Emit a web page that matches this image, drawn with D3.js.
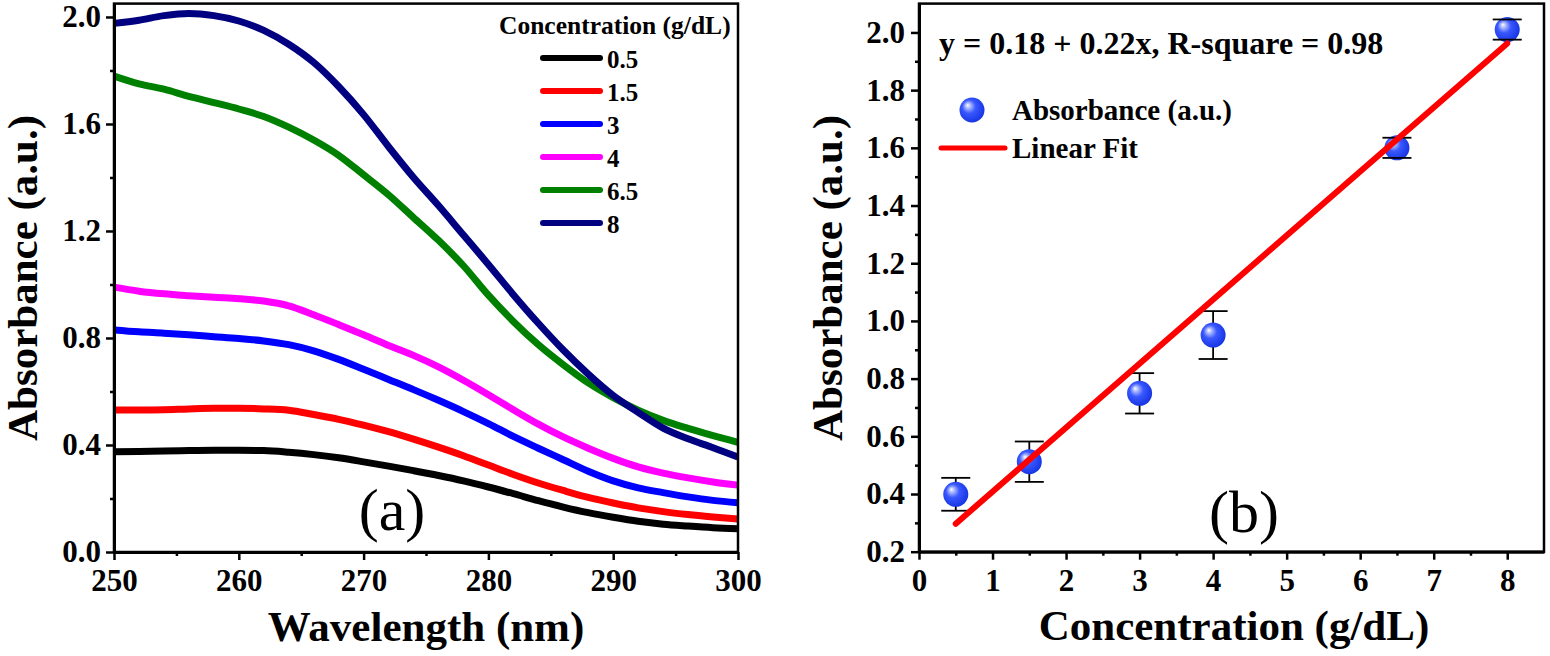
<!DOCTYPE html>
<html><head><meta charset="utf-8">
<script src="https://cdn.jsdelivr.net/npm/d3@7"></script>
</head><body style="margin:0;background:#fff"><svg id="c" width="1550" height="656" font-family="Liberation Serif"></svg>
<script>
// ---------- DATA ----------
const wavelengths = [250,252,254,256,258,260,262,264,266,268,270,272,274,276,278,280,282,284,286,288,290,292,294,296,298,300];
const seriesLabels = ["0.5","1.5","3","4","6.5","8"];
const abs_0_5 = [0.375,0.376,0.378,0.379,0.380,0.380,0.379,0.373,0.364,0.352,0.337,0.321,0.304,0.286,0.266,0.243,0.218,0.192,0.168,0.147,0.130,0.115,0.104,0.097,0.091,0.087];
const abs_1_5 = [0.531,0.531,0.532,0.535,0.537,0.537,0.535,0.530,0.514,0.496,0.474,0.450,0.422,0.392,0.360,0.325,0.290,0.258,0.230,0.204,0.183,0.165,0.151,0.140,0.131,0.123];
const abs_3   = [0.830,0.823,0.818,0.812,0.805,0.798,0.789,0.775,0.752,0.720,0.683,0.645,0.607,0.567,0.525,0.480,0.432,0.388,0.345,0.302,0.266,0.240,0.222,0.206,0.193,0.184];
const abs_4   = [0.990,0.975,0.965,0.958,0.952,0.947,0.938,0.920,0.887,0.850,0.812,0.772,0.735,0.692,0.642,0.588,0.532,0.478,0.430,0.388,0.350,0.318,0.295,0.277,0.262,0.250];
const abs_6_5 = [1.779,1.750,1.730,1.703,1.680,1.656,1.628,1.588,1.540,1.483,1.410,1.335,1.250,1.165,1.070,0.960,0.862,0.775,0.700,0.632,0.577,0.530,0.492,0.462,0.435,0.410];
const abs_8   = [1.976,1.988,2.005,2.013,2.005,1.985,1.950,1.898,1.830,1.740,1.635,1.515,1.400,1.295,1.185,1.075,0.962,0.855,0.755,0.665,0.585,0.522,0.463,0.423,0.390,0.355];
const seriesValues = [abs_0_5, abs_1_5, abs_3, abs_4, abs_6_5, abs_8];

const concentrations = [0.5,1.5,3,4,6.5,8];
const meanAbsorbance = [0.399,0.512,0.749,0.951,1.600,2.010];
const absError = [0.057,0.070,0.070,0.083,0.035,0.035];
const fitX = [0.5,8];
const fitY = [0.297,1.962];

const leftYTicks = [0,0.4,0.8,1.2,1.6,2.0];
const leftYMinor = [0.2,0.6,1.0,1.4,1.8];
const leftXTicks = [250,260,270,280,290,300];
const leftXMinor = [255,265,275,285,295];
const rightYTicks = [0.2,0.4,0.6,0.8,1.0,1.2,1.4,1.6,1.8,2.0];
const rightYMinor = [0.3,0.5,0.7,0.9,1.1,1.3,1.5,1.7,1.9];
const rightXTicks = [0,1,2,3,4,5,6,7,8];
const rightXMinor = [0.5,1.5,2.5,3.5,4.5,5.5,6.5,7.5];

// ---------- STYLE ----------
const seriesColors = ["#000000","#ff0000","#0000ff","#ff00ff","#008000","#000080"];
const FONT = "Liberation Serif";

const svg = d3.select("#c");

function setFont(sel){
  sel.attr("font-family",FONT).style("font-family",'"Liberation Serif"');
}
function txt(g, x, y, s, size, opts={}){
  const t = g.append("text").attr("x",x).attr("y",y)
    .attr("font-size",size).attr("font-weight",opts.normal?"normal":"bold")
    .attr("fill","#000").attr("text-anchor",opts.anchor||"start").text(s);
  setFont(t);
  if(opts.transform) t.attr("transform",opts.transform);
  return t;
}

const defs = svg.append("defs");
const grad = defs.append("radialGradient").attr("id","sphere")
  .attr("cx","0.45").attr("cy","0.45").attr("r","0.6").attr("fx","0.32").attr("fy","0.3");
grad.append("stop").attr("offset","0%").attr("stop-color","#ffffff");
grad.append("stop").attr("offset","18%").attr("stop-color","#a8b6ff");
grad.append("stop").attr("offset","45%").attr("stop-color","#3a58ff");
grad.append("stop").attr("offset","100%").attr("stop-color","#1232e0");

function drawAxes(g, x, y, xt, xm, yt, ym, xfmt, yfmt, ypad){
  const [x0,x1] = x.range(), [y0,y1] = y.range();
  g.append("rect").attr("x",x0).attr("y",y1).attr("width",x1-x0).attr("height",y0-y1)
    .attr("fill","none").attr("stroke","#000").attr("stroke-width",2.5);
  g.append("g").attr("transform",`translate(0,${y0})`)
    .call(d3.axisBottom(x).tickValues(xt).tickFormat(xfmt).tickSize(8).tickSizeOuter(0).tickPadding(9));
  g.append("g").attr("transform",`translate(0,${y0})`)
    .call(d3.axisBottom(x).tickValues(xm).tickFormat("").tickSize(4).tickSizeOuter(0))
    .select(".domain").remove();
  g.append("g").attr("transform",`translate(${x0},0)`)
    .call(d3.axisLeft(y).tickValues(yt).tickFormat(yfmt).tickSize(8).tickSizeOuter(0).tickPadding(ypad));
  g.append("g").attr("transform",`translate(${x0},0)`)
    .call(d3.axisLeft(y).tickValues(ym).tickFormat("").tickSize(4).tickSizeOuter(0))
    .select(".domain").remove();
  g.selectAll("g").attr("font-family",FONT).attr("font-size",31);
  g.selectAll(".domain").attr("stroke-width",3);
  g.selectAll(".tick line").attr("stroke-width",2.5);
  const tt = g.selectAll(".tick text").attr("font-size",31).attr("font-weight","bold").attr("fill","#000");
  setFont(tt);
}

// ---------- PANEL A ----------
const xA = d3.scaleLinear().domain([250,300]).range([114,738]);
const yA = d3.scaleLinear().domain([0,2.05]).range([552,3.6]);
const gA = svg.append("g");

const lineA = d3.line().x((d,i)=>xA(wavelengths[i])).y(d=>yA(d)).curve(d3.curveMonotoneX);
seriesValues.forEach((vals,k)=>{
  gA.append("path").attr("d",lineA(vals)).attr("fill","none")
    .attr("stroke",seriesColors[k]).attr("stroke-width",7).attr("stroke-linejoin","round");
});
drawAxes(gA, xA, yA, leftXTicks, leftXMinor, leftYTicks, leftYMinor, d3.format("d"), d3.format(".1f"), 5);

// legend A
txt(gA, 499, 34, "Concentration (g/dL)", 25.5);
seriesLabels.forEach((lab,k)=>{
  const yy = 58 + 33*k;
  gA.append("line").attr("x1",543).attr("x2",600).attr("y1",yy).attr("y2",yy)
    .attr("stroke",seriesColors[k]).attr("stroke-width",6).attr("stroke-linecap","round");
  txt(gA, 607, yy+9.5, lab, 25);
});
txt(gA, 392, 530, "(a)", 60, {anchor:"middle", normal:true});
txt(gA, 0, 0, "Absorbance (a.u.)", 43, {anchor:"middle", transform:"translate(37,278) rotate(-90)"});
txt(gA, 426, 641, "Wavelength (nm)", 43, {anchor:"middle"});

// ---------- PANEL B ----------
const xB = d3.scaleLinear().domain([0,8.5]).range([919,1544]);
const yB = d3.scaleLinear().domain([0.2,2.1]).range([551.7,3.6]);
const gB = svg.append("g");
drawAxes(gB, xB, yB, rightXTicks, rightXMinor, rightYTicks, rightYMinor, d3.format("d"), d3.format(".1f"), 6);

const pts = concentrations.map((c,i)=>({c, v:meanAbsorbance[i], e:absError[i]}));
gB.selectAll(".stem").data(pts).enter().append("line")
  .attr("x1",d=>xB(d.c)).attr("x2",d=>xB(d.c))
  .attr("y1",d=>yB(d.v+d.e)).attr("y2",d=>yB(d.v-d.e))
  .attr("stroke","#000").attr("stroke-width",1.8);
gB.selectAll(".pt").data(pts).enter().append("circle")
  .attr("cx",d=>xB(d.c)).attr("cy",d=>yB(d.v)).attr("r",12.5).attr("fill","url(#sphere)");
[1,-1].forEach(s=>{
  gB.selectAll(".cap"+s).data(pts).enter().append("line")
    .attr("x1",d=>xB(d.c)-14.5).attr("x2",d=>xB(d.c)+14.5)
    .attr("y1",d=>yB(d.v+s*d.e)).attr("y2",d=>yB(d.v+s*d.e))
    .attr("stroke","#000").attr("stroke-width",1.8);
});
gB.append("path").attr("d",d3.line().x((d,i)=>xB(fitX[i])).y(d=>yB(d))(fitY))
  .attr("stroke","#ff0000").attr("stroke-width",6).attr("fill","none").attr("stroke-linecap","round");

// legend B
txt(gB, 939, 54, "y = 0.18 + 0.22x, R-square = 0.98", 32);
gB.append("circle").attr("cx",972).attr("cy",110).attr("r",12.5).attr("fill","url(#sphere)");
txt(gB, 1012, 120, "Absorbance (a.u.)", 29);
gB.append("line").attr("x1",941).attr("x2",1005).attr("y1",148).attr("y2",148)
  .attr("stroke","#ff0000").attr("stroke-width",5).attr("stroke-linecap","round");
txt(gB, 1012, 158, "Linear Fit", 29);
txt(gB, 1244, 532, "(b)", 60, {anchor:"middle", normal:true});
txt(gB, 0, 0, "Absorbance (a.u.)", 43, {anchor:"middle", transform:"translate(842,278) rotate(-90)"});
txt(gB, 1234, 640, "Concentration (g/dL)", 43, {anchor:"middle"});
</script>
</body></html>
